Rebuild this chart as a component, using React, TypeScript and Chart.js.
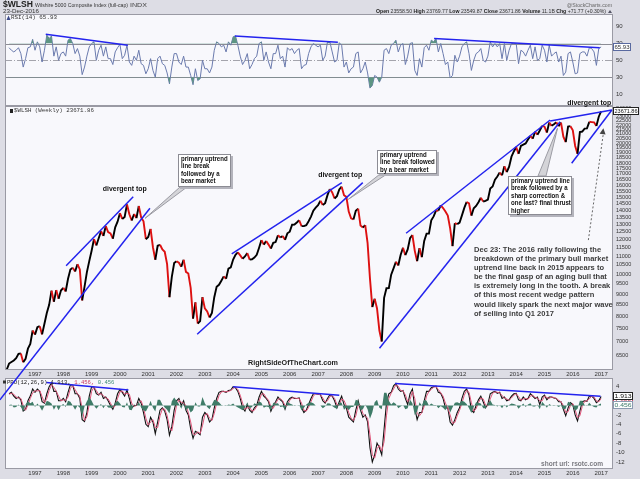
import React, { useEffect, useRef } from 'react';
import { Chart, registerables } from 'chart.js';

Chart.register(...registerables);

const SANS = "'Liberation Sans', Arial, Helvetica, sans-serif";
const MONO = "'Liberation Mono', 'DejaVu Sans Mono', monospace";
const PAGE_BG = '#dddde5';
const PANEL_BG = '#f8f8fc';
const PANEL_BORDER = '#9a9aa4';
const TREND_BLUE = '#2323ee';
const AXIS_W = 27;

// ---------------- data ----------------
const FIRST_YEAR = 1996; // monthly closes, Jan 1996 .. Dec 2016
const X_MIN = 1995.94;
const X_MAX = 2017.42;
const YEAR_TICKS = [1997, 1998, 1999, 2000, 2001, 2002, 2003, 2004, 2005, 2006, 2007, 2008, 2009, 2010, 2011, 2012, 2013, 2014, 2015, 2016, 2017];
const PRICE_TICKS = [6500, 7000, 7500, 8000, 8500, 9000, 9500, 10000, 10500, 11000, 11500, 12000, 12500, 13000, 13500, 14000, 14500, 15000, 15500, 16000, 16500, 17000, 17500, 18000, 18500, 19000, 19500, 20000, 20500, 21000, 21500, 22000, 22500, 23000, 23500, 24000];
const RSI_TICKS = [90, 70, 50, 30, 10];
const PPO_TICKS = [4, 2, 0, -2, -4, -6, -8, -10, -12];

const PRICE_START = 6030;
const PRICE = [
  6230, 6280, 6330, 6410, 6560, 6570, 6270, 6390, 6740, 6910, 7420, 7260,
  7550, 7590, 7270, 7690, 8140, 8500, 9160, 8640, 9190, 8780, 9170, 9300,
  9120, 9760, 10250, 10340, 10140, 10540, 10250, 8700, 9360, 10110, 10710, 11320,
  12030, 11640, 12090, 12550, 12240, 12900, 12490, 12410, 12060, 12810, 13200, 13810,
  13390, 13530, 14460, 13730, 13280, 13750, 13450, 14340, 13500, 13220, 12030, 12170,
  12700, 11530, 10790, 11620, 11680, 11390, 11260, 10540, 8850, 9860, 10600, 10710,
  10620, 10400, 10790, 10120, 10030, 9300, 7900, 8610, 7700, 7800, 8850, 8340,
  8210, 7950, 8140, 8850, 9350, 9450, 9660, 9880, 9760, 10300, 10370, 10800,
  11080, 11220, 11040, 10850, 10980, 11180, 10800, 10820, 10920, 11080, 11500, 11970,
  11690, 11920, 11690, 11450, 11800, 11850, 12280, 12140, 12230, 11990, 12410, 12520,
  12990, 13000, 13140, 13300, 12890, 12890, 12960, 13230, 13560, 13990, 14220, 14400,
  14740, 14420, 14560, 15190, 15690, 15410, 14920, 15110, 15650, 15880, 15180, 15050,
  13920, 13440, 13360, 13990, 14140, 12930, 12800, 12960, 11780, 9780, 8400, 8780,
  8340, 7420, 7000, 8820, 9280, 9290, 9970, 10310, 10680, 10470, 11070, 11500,
  11060, 11400, 12090, 12300, 11310, 10710, 11470, 10940, 11920, 12390, 12390, 13290,
  13570, 14000, 13990, 14390, 14190, 13930, 13630, 12740, 11600, 13100, 13030, 13140,
  13650, 14200, 14650, 14540, 13630, 14170, 14340, 14630, 14980, 14690, 14730, 14830,
  15730, 15900, 16480, 16770, 17120, 16870, 17700, 17150, 17660, 18620, 19140, 19600,
  18900, 19710, 19850, 19970, 20390, 20780, 20470, 21240, 20910, 21390, 21920, 21820,
  21150, 22310, 21920, 22110, 22340, 21870, 22300, 20700, 20100, 21830, 21880, 21400,
  19700, 18900, 21220, 21270, 21600, 21620, 22390, 22360, 22330, 21900, 23000, 23671.86,
];

const RSI = [
  65, 62, 60, 62, 65, 58, 42, 52, 65, 66, 75, 62,
  72, 66, 48, 62, 80, 76, 79, 55, 66, 50, 58, 60,
  55, 74, 76, 70, 58, 64, 55, 33, 42, 55, 66, 70,
  72, 50, 62, 68, 55, 66, 52, 52, 45, 60, 65, 69,
  52, 56, 68, 48, 44, 55, 50, 62, 46, 44, 34, 40,
  52, 38, 30, 52, 55, 46, 44, 35, 22, 42, 58, 58,
  48, 45, 55, 42, 42, 32, 21, 40, 26, 28, 50, 40,
  40, 35, 42, 62, 72, 70, 66, 68, 60, 72, 68, 78,
  79, 68, 55, 45, 50, 58, 40, 45, 52, 55, 70, 72,
  50, 60, 48, 40, 58, 58, 68, 52, 55, 42, 65, 62,
  64, 58, 62, 64, 40, 44, 45, 58, 66, 70, 68, 66,
  68, 50, 55, 72, 72, 60, 48, 50, 71, 68, 42, 48,
  35, 40, 42, 58, 60, 35, 40, 48, 35, 17, 20, 32,
  30, 24, 30, 62, 64, 58, 68, 70, 74, 60, 68, 70,
  45, 55, 70, 71, 38, 32, 52, 42, 65, 68, 62, 74,
  72, 76, 60, 70, 58, 45, 48, 29, 32, 56, 48, 55,
  66, 70, 72, 58, 38, 50, 58, 60, 64, 50, 48, 55,
  72, 66, 70, 66, 70, 52, 70, 50, 62, 70, 70, 70,
  46, 62, 60, 55, 62, 68, 52, 66, 50, 52, 68, 62,
  48, 68, 55, 58, 60, 48, 55, 32, 36, 58, 60, 48,
  34, 35, 58, 60, 60, 55, 65, 64, 60, 44, 64, 65.93,
];

const PPO = [
  2.5, 2.8, 2.0, 1.5, 1.8, 1.2, -1.2, -0.8, 1.0, 2.0, 3.5, 2.8,
  3.5, 3.0, 0.8, 0.5, 2.5, 4.0, 4.8, 3.0, 3.0, 1.0, 1.0, 1.5,
  0.8, 2.8, 4.4, 4.3, 2.5, 2.5, 1.5, -3.0, -3.4, -1.5, 2.0, 4.0,
  3.9, 2.5, 2.2, 2.8, 1.5, 1.8, 1.0, 0.0, -0.8, 0.5, 2.5, 3.4,
  2.8, 2.0, 3.3, 1.5, -0.5, 0.0, 0.0, 1.5, 0.5, -1.5, -4.0, -4.5,
  -2.5, -3.5, -6.0, -3.5, -1.0, -0.5, -1.2, -3.0, -6.3, -4.5, -1.0, 1.0,
  1.5, 0.0, 1.0, -1.0, -2.0, -5.0, -7.0, -5.5, -5.8, -6.2, -2.5, -1.5,
  -2.0, -3.5, -3.0, -0.5, 1.5, 2.8, 3.0, 3.0, 2.8, 3.2, 3.3, 4.0,
  3.8, 3.0, 1.5, -0.5, -1.2, 0.2, -1.0, -1.5, -0.5, 0.0, 1.8, 3.0,
  2.0, 1.5, 0.8, -1.2, 0.0, 0.8, 1.8, 1.2, 0.8, -0.8, 0.8, 1.5,
  1.8, 1.5, 1.5, 1.6, -0.5, -1.5, -1.0, 0.2, 1.5, 2.5, 2.5, 2.4,
  2.3, 1.0, 0.5, 1.5, 2.3, 2.0, 1.0, -0.5, 0.8, 2.0, 0.2, -0.5,
  -2.5, -3.0, -3.5, -1.0, 1.0, -1.0, -2.5, -2.0, -3.5, -9.0, -12.0, -10.5,
  -8.0, -9.0, -10.5, -5.0, 0.5, 2.5, 2.8, 4.2, 4.7, 3.5, 3.0, 3.2,
  1.5, 0.2, 2.5, 3.5, -0.5, -3.0, -1.5, -1.5, 1.0, 3.0, 3.0, 3.8,
  4.0, 4.1, 2.8, 2.6, 1.5, -0.5, -0.5, -3.5, -4.2, -3.0, -1.5, -0.5,
  1.5, 3.0, 3.5, 2.2, -1.0, -1.5, 0.0, 1.2, 2.0, 0.8, -0.5, 0.3,
  2.5, 2.8, 3.0, 2.6, 2.8, 1.5, 1.8, 1.0, 1.2, 2.0, 2.5, 2.6,
  1.2, 1.0, 1.8, 1.2, 1.5, 2.5, 2.0, 1.5, 1.8, 0.2, 1.8, 2.2,
  1.2, 1.8, 1.8, 1.6, 1.5, 0.8, 0.8, -0.8, -2.2, -0.5, 0.6, 0.2,
  -2.0, -3.3, -1.2, 0.8, 1.0, 0.9, 2.0, 2.0, 1.5, 0.6, 1.0, 1.913,
];

const SIGNAL = [
  2.4, 2.6, 2.4, 1.8, 1.6, 1.5, 0.0, -1.0, 0.1, 1.5, 2.7, 3.1,
  3.1, 3.2, 1.9, 0.6, 1.5, 3.2, 4.4, 3.9, 3.0, 2.0, 1.0, 1.2,
  1.1, 1.8, 3.6, 4.3, 3.4, 2.5, 2.0, -0.7, -3.2, -2.4, 0.2, 3.0,
  3.9, 3.2, 2.3, 2.5, 2.1, 1.6, 1.4, 0.5, -0.4, -0.1, 1.5, 2.9,
  3.1, 2.4, 2.6, 2.4, 0.5, -0.2, 0.0, 0.7, 1.0, -0.5, -2.7, -4.2,
  -3.5, -3.0, -4.7, -4.7, -2.2, -0.7, -0.8, -2.1, -4.6, -5.4, -2.7, 0.0,
  1.2, 0.7, 0.5, 0.0, -1.5, -3.5, -6.0, -6.2, -5.6, -6.0, -4.3, -2.0,
  -1.7, -2.7, -3.2, -1.7, 0.5, 2.1, 2.9, 3.0, 2.9, 3.0, 3.2, 3.6,
  3.9, 3.4, 2.2, 0.5, -0.8, -0.5, -0.4, -1.2, -1.0, -0.2, 0.9, 2.4,
  2.5, 1.7, 1.1, -0.2, -0.6, 0.4, 1.3, 1.5, 1.0, 0.0, 0.0, 1.1,
  1.6, 1.6, 1.5, 1.5, 0.5, -1.0, -1.2, -0.4, 0.8, 2.0, 2.5, 2.4,
  2.3, 1.6, 0.7, 1.0, 1.9, 2.1, 1.5, 0.2, 0.1, 1.4, 1.1, -0.1,
  -1.5, -2.7, -3.2, -2.2, 0.0, 0.0, -1.7, -2.2, -2.7, -6.2, -10.5, -11.2,
  -9.2, -8.5, -9.7, -7.7, -2.2, 1.5, 2.6, 3.5, 4.4, 4.1, 3.2, 3.1,
  2.3, 0.8, 1.3, 3.0, 1.5, -1.7, -2.2, -1.5, -0.2, 2.0, 3.0, 3.4,
  3.9, 4.0, 3.4, 2.7, 2.0, 0.5, -0.5, -2.0, -3.8, -3.6, -2.2, -1.0,
  0.5, 2.2, 3.2, 2.8, 0.6, -1.2, -0.7, 0.6, 1.6, 1.4, 0.1, -0.1,
  1.4, 2.6, 2.9, 2.8, 2.7, 2.1, 1.6, 1.4, 1.1, 1.6, 2.2, 2.5,
  1.9, 1.1, 1.4, 1.5, 1.3, 2.0, 2.2, 1.7, 1.6, 1.0, 1.0, 2.0,
  1.7, 1.5, 1.8, 1.7, 1.5, 1.1, 0.8, 0.0, -1.5, -1.3, 0.0, 0.4,
  -0.9, -2.6, -2.2, -0.2, 0.9, 1.0, 1.4, 2.0, 1.8, 1.0, 0.8, 1.456,
];

// annotation lines in data coordinates: [[year, value], [year, value]]
const PRICE_TRENDS = [
  [[1995.76, 5140], [2001.06, 14170]],
  [[1998.10, 10457], [2000.47, 15066]],
  [[2003.95, 11127], [2007.84, 16225]],
  [[2002.73, 7275], [2008.58, 16225]],
  [[2009.17, 6756], [2015.55, 22404]],
  [[2010.11, 12415], [2015.20, 22607]],
  [[2015.20, 22488], [2017.38, 23836]],
  [[2015.96, 17980], [2017.38, 23836]],
];
const RSI_TRENDS = [
  [[1997.38, 81], [2000.28, 68]],
  [[2004.06, 79], [2007.7, 71.5]],
  [[2011.1, 76], [2016.95, 65]],
];
const PPO_TRENDS = [
  [[1997.4, 4.9], [2000.3, 3.3]],
  [[2004.0, 4.0], [2007.75, 2.2]],
  [[2009.72, 4.7], [2016.98, 1.95]],
];
const DIVERGENT_LABELS = [[2000.17, 15690], [2007.78, 16900], [2016.58, 24770]];
const NOTES = [
  { at: [2002.06, 18900], w: 53, h: 33, root: [2, 33, 9, 33], tip: [2000.89, 13440],
    lines: ['primary uptrend', 'line break', 'followed by a', 'bear market'] },
  { at: [2009.10, 19290], w: 60, h: 24, root: [3, 24, 10, 24], tip: [2008.07, 14860],
    lines: ['primary uptrend', 'line break followed', 'by a bear market'] },
  { at: [2013.70, 16810], w: 64, h: 39, root: [30, 0, 38, 0], tip: [2015.46, 21640],
    lines: ['primary uptrend line', 'break followed by a', 'sharp correction &', 'one last? final thrust', 'higher'] },
];
const COMMENT_AT = [2012.51, 11360];
const COMMENT = [
  'Dec 23: The 2016 rally following the',
  'breakdown of the primary bull market',
  'uptrend line back in 2015 appears to',
  'be the final gasp of an aging bull that',
  'is extremely long in the tooth. A break',
  'of this most recent wedge pattern',
  'would likely spark the next major wave',
  'of selling into Q1 2017',
];
const ARROW = [[2016.55, 11975], [2017.08, 21640]];
const LAST = { close: 23671.86, rsi: 65.93, ppo: 1.913, signal: 1.456, hist: 0.456 };

// ---------------- helpers ----------------
const monthTime = (i: number) => FIRST_YEAR + (i + 1) / 12;
const series = (arr: number[]) => arr.map((v, i) => ({ x: monthTime(i), y: v }));

function drawText(ctx: any, str: string, x: number, y: number, font: string, color: string, opts: any = {}) {
  ctx.save();
  ctx.font = font;
  ctx.fillStyle = color;
  ctx.textBaseline = 'middle';
  ctx.textAlign = 'left';
  const natural = ctx.measureText(str).width || 1;
  const w = opts.width != null ? opts.width : natural * (opts.sx != null ? opts.sx : 1);
  const sx = w / natural;
  let left = x;
  if (opts.align === 'center') left = x - w / 2;
  else if (opts.align === 'right') left = x - w;
  ctx.translate(left, y);
  ctx.scale(sx, 1);
  ctx.fillText(str, 0, 0);
  ctx.restore();
  return w;
}

function drawSegments(ctx: any, segs: any[], left: number, y: number, width: number) {
  ctx.save();
  let total = 0;
  segs.forEach((s) => { ctx.font = s.font; total += ctx.measureText(s.text).width; });
  const sx = width / total;
  let x = left;
  segs.forEach((s) => {
    ctx.font = s.font;
    const w = ctx.measureText(s.text).width;
    drawText(ctx, s.text, x, y, s.font, s.color, { width: w * sx });
    x += w * sx;
  });
  ctx.restore();
}

function drawTrends(chart: any, list: any[], width = 1.5) {
  const { ctx, scales } = chart;
  ctx.save();
  ctx.strokeStyle = TREND_BLUE;
  ctx.lineWidth = width;
  list.forEach(([a, b]: any) => {
    ctx.beginPath();
    ctx.moveTo(scales.x.getPixelForValue(a[0]), scales.y.getPixelForValue(a[1]));
    ctx.lineTo(scales.x.getPixelForValue(b[0]), scales.y.getPixelForValue(b[1]));
    ctx.stroke();
  });
  ctx.restore();
}

function drawTag(ctx: any, x: number, y: number, w: number, text: string, border: string, color: string) {
  ctx.save();
  ctx.fillStyle = '#ffffff';
  ctx.fillRect(x, Math.round(y) - 4, w, 8);
  ctx.strokeStyle = border;
  ctx.lineWidth = 1;
  ctx.strokeRect(x + 0.5, Math.round(y) - 3.5, w - 1, 7);
  ctx.restore();
  drawText(ctx, text, x + w / 2, Math.round(y), `5.5px ${SANS}`, color, { align: 'center', width: w - 3 });
}

const panelPlugin = {
  id: 'panel',
  beforeDraw(chart: any) {
    const { ctx, chartArea: a } = chart;
    ctx.save();
    ctx.fillStyle = PANEL_BG;
    ctx.fillRect(a.left, a.top, a.right - a.left, a.bottom - a.top);
    ctx.restore();
  },
  afterDatasetsDraw(chart: any) {
    const { ctx, chartArea: a } = chart;
    ctx.save();
    ctx.strokeStyle = PANEL_BORDER;
    ctx.lineWidth = 1;
    ctx.strokeRect(Math.round(a.left) + 0.5, Math.round(a.top) + 0.5, Math.round(a.right - a.left) - 1, Math.round(a.bottom - a.top) - 1);
    ctx.restore();
  },
};

const xScale = (display: boolean, h: number) => ({
  type: 'linear',
  min: X_MIN,
  max: X_MAX,
  display,
  afterBuildTicks: (s: any) => { s.ticks = YEAR_TICKS.map((v) => ({ value: v })); },
  afterFit: (s: any) => { s.height = h; },
  grid: { display: false, drawTicks: false },
  border: { display: false },
  ticks: { autoSkip: false, maxRotation: 0, minRotation: 0, padding: 1, color: '#333', font: { family: SANS, size: 6 }, callback: (v: any) => String(v) },
});

const yRight = (cfg: any, tickValues: number[], fontSize: number) => ({
  position: 'right',
  ...cfg,
  afterBuildTicks: (s: any) => { s.ticks = tickValues.map((v) => ({ value: v })); },
  afterFit: (s: any) => { s.width = AXIS_W; },
  grid: { display: false, drawTicks: false },
  border: { display: false },
  ticks: { autoSkip: false, padding: 3, color: '#333', font: { family: SANS, size: fontSize }, callback: (v: any) => String(v) },
});

const baseOptions = (padding: any, scales: any) => ({
  responsive: false,
  animation: false,
  events: [],
  layout: { padding },
  plugins: { legend: { display: false }, tooltip: { enabled: false } },
  elements: { point: { radius: 0 }, line: { tension: 0 } },
  scales,
});

// ---------------- charts ----------------
function makeRsi(canvas: HTMLCanvasElement) {
  const pts = series(RSI);
  const deco = {
    id: 'rsiDeco',
    beforeDatasetsDraw(chart: any) {
      const { ctx, chartArea: a, scales: { y } } = chart;
      ctx.save();
      ctx.lineWidth = 1;
      ctx.strokeStyle = '#8c8c94';
      [70, 30].forEach((v) => {
        const yy = Math.round(y.getPixelForValue(v)) + 0.5;
        ctx.beginPath(); ctx.moveTo(a.left, yy); ctx.lineTo(a.right, yy); ctx.stroke();
      });
      ctx.strokeStyle = '#a4a4ac';
      ctx.setLineDash([7, 2, 1, 2]);
      const y50 = Math.round(y.getPixelForValue(50)) + 0.5;
      ctx.beginPath(); ctx.moveTo(a.left, y50); ctx.lineTo(a.right, y50); ctx.stroke();
      ctx.restore();
    },
    afterDraw(chart: any) {
      const { ctx, chartArea: a, scales: { y } } = chart;
      drawTrends(chart, RSI_TRENDS);
      ctx.save();
      ctx.fillStyle = '#3b4a8a';
      ctx.beginPath(); ctx.moveTo(6.5, a.top + 6); ctx.lineTo(8.5, a.top + 1.5); ctx.lineTo(10.5, a.top + 6); ctx.closePath(); ctx.fill();
      ctx.restore();
      drawText(ctx, `RSI(14) ${LAST.rsi}`, 11, a.top + 3.8, `5.9px ${MONO}`, '#333', { width: 46 });
      drawTag(ctx, a.right, y.getPixelForValue(LAST.rsi), 18, String(LAST.rsi), '#5a6aa0', '#333');
      // page header
      drawText(ctx, '$WLSH', 3, 5, `bold 8.6px ${SANS}`, '#222', { width: 30 });
      drawText(ctx, 'Wilshire 5000 Composite Index (full-cap)', 35, 5.5, `6px ${SANS}`, '#333', { width: 93 });
      drawText(ctx, 'INDX', 130, 5.5, `5.5px ${SANS}`, '#444', { width: 17 });
      drawText(ctx, '23-Dec-2016', 3, 11.3, `6px ${SANS}`, '#333', { width: 36 });
      drawText(ctx, '@StockCharts.com', 612, 5, `6px ${SANS}`, '#666', { align: 'right', width: 45 });
      const B = `bold 6.2px ${SANS}`;
      const N = `6.2px ${SANS}`;
      drawSegments(ctx, [
        { text: 'Open ', font: B, color: '#222' }, { text: '23558.50 ', font: N, color: '#333' },
        { text: 'High ', font: B, color: '#222' }, { text: '23769.77 ', font: N, color: '#333' },
        { text: 'Low ', font: B, color: '#222' }, { text: '23549.87 ', font: N, color: '#333' },
        { text: 'Close ', font: B, color: '#222' }, { text: '23671.86 ', font: N, color: '#333' },
        { text: 'Volume ', font: B, color: '#222' }, { text: '11.1B ', font: N, color: '#333' },
        { text: 'Chg ', font: B, color: '#222' }, { text: '+71.77 (+0.30%)', font: N, color: '#333' },
      ], 376, 11.3, 230);
      ctx.save();
      ctx.fillStyle = '#556';
      ctx.beginPath(); ctx.moveTo(608, 13); ctx.lineTo(610, 10); ctx.lineTo(612, 13); ctx.closePath(); ctx.fill();
      ctx.restore();
    },
  };
  return new Chart(canvas, {
    type: 'line',
    data: {
      datasets: [
        { data: pts, borderWidth: 0, borderColor: 'rgba(0,0,0,0)', fill: { target: { value: 70 }, above: '#5d9583', below: 'rgba(0,0,0,0)' } },
        { data: pts, borderWidth: 0, borderColor: 'rgba(0,0,0,0)', fill: { target: { value: 30 }, above: 'rgba(0,0,0,0)', below: '#5d9583' } },
        { data: pts, borderWidth: 1, borderColor: '#6b7bae', fill: false },
      ],
    },
    options: baseOptions({ left: 5, right: 0, top: 14, bottom: 10 }, {
      x: xScale(false, 0),
      y: yRight({ type: 'linear', min: -4.3, max: 105.1 }, RSI_TICKS, 6),
    }),
    plugins: [panelPlugin, deco],
  } as any);
}

function makePrice(canvas: HTMLCanvasElement) {
  const pts = [{ x: FIRST_YEAR, y: PRICE_START }, ...series(PRICE)];
  const deco = {
    id: 'priceDeco',
    afterDraw(chart: any) {
      const { ctx, chartArea: a, scales: { x, y } } = chart;
      const P = (d: any) => [x.getPixelForValue(d[0]), y.getPixelForValue(d[1])];
      drawTrends(chart, PRICE_TRENDS);
      DIVERGENT_LABELS.forEach((d) => {
        const [px, py] = P(d);
        drawText(ctx, 'divergent top', px, py, `bold 7.5px ${SANS}`, '#111', { align: 'center', width: 44 });
      });
      NOTES.forEach((n) => {
        const [bx0, by0] = P(n.at);
        const bx = Math.round(bx0), by = Math.round(by0);
        const [tx, ty] = P(n.tip);
        ctx.save();
        ctx.fillStyle = '#d4d4d8';
        ctx.strokeStyle = '#9c9ca4';
        ctx.lineWidth = 1;
        ctx.beginPath();
        ctx.moveTo(bx + n.root[0], by + n.root[1]);
        ctx.lineTo(tx, ty);
        ctx.lineTo(bx + n.root[2], by + n.root[3]);
        ctx.closePath();
        ctx.fill();
        ctx.stroke();
        ctx.fillStyle = '#b4b4bc';
        ctx.fillRect(bx + 2, by + 2, n.w, n.h);
        ctx.fillStyle = '#ffffff';
        ctx.fillRect(bx, by, n.w, n.h);
        ctx.strokeStyle = '#8c8c94';
        ctx.strokeRect(bx + 0.5, by + 0.5, n.w - 1, n.h - 1);
        ctx.restore();
        n.lines.forEach((ln, k) => {
          drawText(ctx, ln, bx + 3, by + 4.8 + k * 7.5, `bold 7px ${SANS}`, '#111', { sx: 0.87 });
        });
      });
      const [cx, cy] = P(COMMENT_AT);
      COMMENT.forEach((ln, k) => {
        drawText(ctx, ln, cx, cy + k * 9.05, `bold 8px ${SANS}`, '#3c3c3c', { sx: 0.94 });
      });
      const [ax0, ay0] = P(ARROW[0]);
      const [ax1, ay1] = P(ARROW[1]);
      ctx.save();
      ctx.strokeStyle = '#666';
      ctx.lineWidth = 1;
      ctx.setLineDash([2, 2]);
      ctx.beginPath(); ctx.moveTo(ax0, ay0); ctx.lineTo(ax1, ay1 + 5); ctx.stroke();
      ctx.setLineDash([]);
      const ang = Math.atan2(ay1 - ay0, ax1 - ax0);
      ctx.fillStyle = '#444';
      ctx.beginPath();
      ctx.moveTo(ax1, ay1);
      ctx.lineTo(ax1 - 6 * Math.cos(ang) + 3 * Math.sin(ang), ay1 - 6 * Math.sin(ang) - 3 * Math.cos(ang));
      ctx.lineTo(ax1 - 6 * Math.cos(ang) - 3 * Math.sin(ang), ay1 - 6 * Math.sin(ang) + 3 * Math.cos(ang));
      ctx.closePath();
      ctx.fill();
      ctx.restore();
      drawText(ctx, 'RightSideOfTheChart.com', a.left + 288, a.bottom - 7, `bold 7.5px ${SANS}`, '#222', { align: 'center', width: 90 });
      ctx.save();
      ctx.fillStyle = '#222';
      ctx.fillRect(10, a.top + 3, 3, 4);
      ctx.restore();
      drawText(ctx, `$WLSH (Weekly) ${LAST.close}`, 14, a.top + 4.8, `5.9px ${MONO}`, '#333', { width: 80 });
      drawTag(ctx, a.right, y.getPixelForValue(LAST.close), 26, String(LAST.close), '#222', '#111');
    },
  };
  return new Chart(canvas, {
    type: 'line',
    data: {
      datasets: [{
        data: pts,
        borderWidth: 1.9,
        borderColor: '#000',
        borderJoinStyle: 'miter',
        fill: false,
        segment: { borderColor: (c: any) => (c.p1.parsed.y < c.p0.parsed.y ? '#dd1111' : '#000000') },
      }],
    },
    options: baseOptions({ left: 5, right: 0, top: 16, bottom: 32 }, {
      x: xScale(true, 8),
      y: yRight({ type: 'logarithmic', min: 6021, max: 24345 }, PRICE_TICKS, 5.5),
    }),
    plugins: [panelPlugin, deco],
  } as any);
}

function makePpo(canvas: HTMLCanvasElement) {
  const ppoPts = series(PPO);
  const sigPts = series(SIGNAL);
  const histPts = PPO.map((v, i) => ({ x: monthTime(i), y: v - SIGNAL[i] }));
  const deco = {
    id: 'ppoDeco',
    afterDraw(chart: any) {
      const { ctx, chartArea: a, scales: { y } } = chart;
      drawTrends(chart, PPO_TRENDS);
      drawTag(ctx, a.right, y.getPixelForValue(LAST.signal) + 2, 20, String(LAST.signal), '#d04a6a', '#c03050');
      drawTag(ctx, a.right, y.getPixelForValue(LAST.ppo) - 1, 20, String(LAST.ppo), '#222', '#111');
      drawTag(ctx, a.right, y.getPixelForValue(LAST.hist) + 2, 20, String(LAST.hist), '#8a9ab0', '#3a7a6a');
      ctx.save();
      ctx.fillStyle = '#333';
      ctx.fillRect(3, a.top + 2.5, 3, 3);
      ctx.restore();
      const F = `5.9px ${MONO}`;
      let x = 7;
      x += drawText(ctx, `PPO(12,26,9) ${LAST.ppo}, `, x, a.top + 4.2, F, '#222', { sx: 0.95 });
      x += drawText(ctx, `${LAST.signal}, `, x, a.top + 4.2, F, '#c8335a', { sx: 0.95 });
      drawText(ctx, `${LAST.hist}`, x, a.top + 4.2, F, '#3a8a74', { sx: 0.95 });
      drawText(ctx, 'short url: rsotc.com', a.right - 10, a.bottom - 4.5, `bold 7px ${SANS}`, '#7a7a80', { align: 'right', width: 62 });
    },
  };
  return new Chart(canvas, {
    type: 'line',
    data: {
      datasets: [
        { data: histPts, borderWidth: 0, borderColor: 'rgba(0,0,0,0)', backgroundColor: '#3f7c68', fill: 'origin' },
        { data: sigPts, borderWidth: 1, borderColor: '#e0567a', fill: false },
        { data: ppoPts, borderWidth: 1.1, borderColor: '#111111', fill: false },
      ],
    },
    options: baseOptions({ left: 5, right: 0, top: 10, bottom: 0 }, {
      x: xScale(true, 10),
      y: yRight({ type: 'linear', min: -13.51, max: 5.85 }, PPO_TICKS, 6),
    }),
    plugins: [panelPlugin, deco],
  } as any);
}

export default function App() {
  const rsiRef = useRef<HTMLCanvasElement>(null);
  const priceRef = useRef<HTMLCanvasElement>(null);
  const ppoRef = useRef<HTMLCanvasElement>(null);

  useEffect(() => {
    document.body.style.margin = '0';
    const charts = [
      makeRsi(rsiRef.current as HTMLCanvasElement),
      makePpo(ppoRef.current as HTMLCanvasElement),
      makePrice(priceRef.current as HTMLCanvasElement),
    ];
    return () => charts.forEach((c) => c.destroy());
  }, []);

  return (
    <div style={{ position: 'fixed', left: 0, top: 0, width: 640, height: 479, background: PAGE_BG, overflow: 'hidden' }}>
      <canvas ref={rsiRef} width={640} height={116} style={{ position: 'absolute', left: 0, top: 0, zIndex: 1 }} />
      <canvas ref={ppoRef} width={640} height={111} style={{ position: 'absolute', left: 0, top: 368, zIndex: 1 }} />
      <canvas ref={priceRef} width={640} height={320} style={{ position: 'absolute', left: 0, top: 90, zIndex: 2 }} />
    </div>
  );
}
